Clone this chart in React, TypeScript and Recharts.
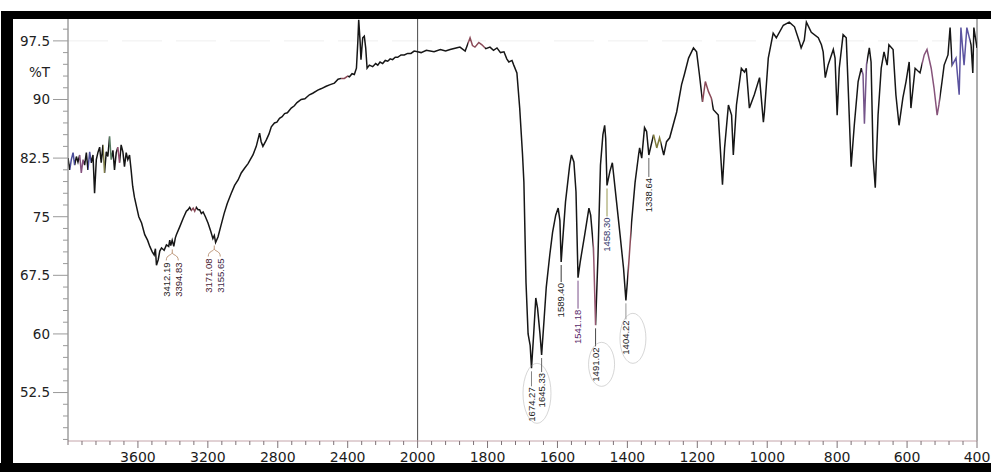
import { Line, LineChart, ReferenceDot, ReferenceLine, XAxis, YAxis } from "recharts";

// IR spectrum, transmittance (%T) against wavenumber (1/cm).
// The 4000-2000 range is drawn at half the scale of 2000-400.
const wavenumbers = [
  4000, 3990, 3981, 3971, 3962, 3952, 3943, 3933, 3924, 3914, 3905, 3895, 3886, 3876, 3867, 3857, 3848, 3838, 3829, 3819,
  3810, 3800, 3791, 3781, 3772, 3762, 3753, 3743, 3734, 3724, 3715, 3705, 3696, 3686, 3677, 3667, 3658, 3648, 3639, 3630,
  3620, 3608, 3595, 3579, 3561, 3545, 3532, 3518, 3507, 3500, 3494, 3484, 3475, 3465, 3450, 3437, 3424, 3418, 3412.19, 3404,
  3394.83, 3386, 3380, 3361, 3341, 3323, 3313, 3304, 3294, 3284, 3275, 3266, 3256, 3247, 3237, 3227, 3214, 3199, 3183, 3171.08,
  3163, 3155.65, 3142, 3127, 3107, 3089, 3066, 3047, 3027, 3009, 2990, 2970, 2955, 2942, 2923, 2904, 2895, 2885, 2866, 2850,
  2837, 2819, 2805, 2790, 2775, 2761, 2745, 2723, 2705, 2690, 2666, 2645, 2619, 2600, 2571, 2550, 2523, 2500, 2476, 2455,
  2438, 2419, 2400, 2390, 2375, 2362, 2350, 2342, 2337, 2329, 2324, 2314, 2305, 2297, 2289, 2276, 2257, 2240, 2228, 2215,
  2200, 2185, 2171, 2157, 2143, 2128, 2114, 2095, 2076, 2057, 2038, 2020, 2000,
  1990, 1975, 1953, 1935, 1920, 1907, 1890, 1879, 1864, 1850, 1843, 1836, 1825, 1816, 1805, 1793, 1783, 1773, 1763, 1753,
  1745, 1739, 1730, 1725, 1716, 1708, 1700, 1696, 1690, 1684, 1678, 1674.27, 1668, 1662, 1657, 1650, 1645.33, 1638, 1632, 1622,
  1614, 1605, 1598, 1593, 1589.4, 1585, 1577, 1565, 1560, 1553, 1547, 1541.18, 1535, 1522, 1510, 1505, 1497, 1491.02, 1484, 1477,
  1470, 1465, 1462, 1458.3, 1450, 1443, 1431, 1421, 1411, 1404.22, 1397, 1388, 1378, 1368, 1365, 1359, 1351, 1345, 1338.64, 1325,
  1316, 1308, 1296, 1288, 1279, 1259, 1245, 1237, 1225, 1211, 1202, 1194, 1185, 1177, 1168, 1160, 1154, 1140, 1128, 1122,
  1111, 1102, 1097, 1088, 1074, 1065, 1060, 1051, 1037, 1022, 1011, 1008, 997, 983, 974, 954, 937, 922, 908, 903,
  894, 888, 874, 854, 845, 840, 834, 826, 811, 806, 800, 794, 783, 774, 768, 760, 751, 740, 731, 726,
  722, 716, 708, 703, 697, 691, 683, 674, 666, 657, 652, 640, 632, 623, 612, 603, 594, 589, 577, 563,
  551, 543, 531, 523, 514, 509, 500, 494, 483, 477, 471, 460, 451, 446, 437, 429, 417, 412, 409, 400,
];

const transmittance = [
  82.5, 81.0, 82.3, 83.2, 81.6, 82.7, 82.0, 82.9, 80.6, 82.3, 81.6, 83.2, 81.0, 83.3, 81.9, 82.9, 78.0, 82.3, 83.2, 83.9,
  81.9, 84.2, 80.6, 83.3, 82.7, 85.3, 82.3, 83.5, 81.0, 83.2, 83.9, 81.9, 84.2, 83.3, 81.4, 83.2, 82.3, 82.9, 81.0, 78.9,
  77.5, 76.3, 75.0, 74.2, 72.7, 72.0, 71.2, 70.5, 70.1, 70.9, 68.8, 69.5, 70.6, 71.0, 70.7, 71.4, 71.2, 72.0, 71.3, 72.0,
  71.2, 72.3, 72.7, 73.7, 74.8, 75.7, 75.9, 76.2, 75.8, 76.1, 75.7, 76.2, 75.9, 75.9, 75.4, 75.6, 75.0, 74.2, 73.1, 72.2,
  72.6, 71.7, 72.4, 73.7, 75.4, 76.7, 78.0, 79.0, 79.7, 80.6, 81.2, 81.8, 82.4, 82.9, 84.0, 85.7, 84.6, 84.0, 84.8, 85.6,
  86.5, 87.0, 87.1, 87.6, 87.8, 88.2, 88.3, 88.9, 89.2, 89.6, 90.0, 90.1, 90.6, 90.8, 91.2, 91.4, 91.7, 91.9, 92.1, 92.6,
  92.7, 92.7, 93.0, 92.9, 93.3, 93.2, 94.0, 97.4, 100.2, 97.4, 95.1, 97.9, 98.1, 96.6, 94.0, 94.4, 94.2, 94.6, 94.4, 94.8,
  94.6, 95.0, 94.9, 95.2, 95.1, 95.4, 95.4, 95.7, 95.7, 95.9, 95.9, 96.2, 96.1,
  96.0, 96.3, 96.1, 96.4, 96.2, 96.4, 96.6, 96.7, 96.2, 97.9, 96.9, 96.7, 97.3, 97.0, 96.5, 96.7, 96.3, 96.6, 96.0, 96.1,
  95.2, 94.8, 95.0, 94.4, 93.4, 88.9, 83.0, 79.4, 66.6, 60.0, 58.5, 55.6, 60.0, 64.6, 63.3, 60.0, 57.3, 62.0, 66.0, 70.1,
  73.0, 75.2, 76.1, 74.5, 69.2, 72.0, 76.9, 81.6, 82.9, 82.0, 78.2, 67.2, 69.2, 72.7, 76.1, 75.2, 71.0, 61.1, 70.1, 81.6,
  85.5, 86.7, 85.0, 79.0, 80.8, 81.9, 76.9, 72.7, 68.4, 64.3, 68.4, 74.3, 79.4, 82.9, 83.8, 82.5, 86.4, 85.9, 82.9, 85.5,
  83.8, 85.1, 82.9, 84.6, 85.1, 88.4, 91.9, 93.2, 95.3, 96.6, 96.1, 93.2, 89.7, 92.3, 91.0, 90.2, 88.7, 88.0, 79.1, 83.8,
  89.3, 88.0, 82.9, 89.3, 94.0, 93.5, 94.0, 88.9, 90.6, 92.8, 87.1, 88.4, 95.3, 98.5, 97.9, 99.5, 99.9, 99.3, 97.4, 96.6,
  97.6, 99.9, 98.6, 97.9, 97.0, 96.1, 92.8, 94.4, 96.4, 95.3, 88.0, 94.0, 98.3, 97.9, 91.0, 81.4, 86.7, 92.3, 94.0, 93.2,
  86.9, 94.5, 96.6, 94.8, 82.5, 78.7, 88.0, 94.0, 96.1, 94.4, 97.0, 96.4, 90.6, 86.7, 90.2, 92.3, 94.8, 88.9, 94.0, 93.4,
  95.7, 96.4, 94.0, 91.5, 88.0, 89.3, 92.3, 94.4, 95.7, 99.2, 94.4, 95.3, 90.6, 99.2, 94.4, 99.2, 97.0, 93.4, 99.2, 96.6,
];

// marked bands
const singlePeaks = [1674.27, 1645.33, 1589.4, 1541.18, 1491.02, 1458.3, 1404.22, 1338.64];
const pairedPeaks = [
  [3412.19, 3394.83],
  [3171.08, 3155.65],
];

const xMajorLabels = [3600, 3200, 2800, 2400, 2000, 1800, 1600, 1400, 1200, 1000, 800, 600, 400];
const yMajorLabels = [52.5, 60, 67.5, 75, 82.5, 90, 97.5];

// pen colour changes along the trace: [from, to, colour]
const traceBands: [number, number, string][] = [
  [3990, 3962, "#4a4c98"],
  [3935, 3908, "#85527f"],
  [3885, 3866, "#4a4c98"],
  [3800, 3788, "#7c7a44"],
  [3766, 3750, "#55795f"],
  [3722, 3704, "#8e4d6c"],
  [3296, 3266, "#8a4a58"],
  [2436, 2396, "#8a4a58"],
  [1856, 1806, "#8a4a58"],
  [1498, 1490, "#94566f"],
  [1398, 1390, "#8a4a58"],
  [1328, 1304, "#7e7a3c"],
  [1186, 1158, "#8a4a58"],
  [728, 714, "#75558a"],
  [556, 506, "#86537a"],
  [472, 420, "#5c54a0"],
];

const peakStyle: Record<string, { text: string; lead: string; gap: number; ring?: [number, number, number, number] }> = {
  "1674.27": { text: "#222", lead: "#777", gap: 19, ring: [5.5, 25, 14, 30] },
  "1645.33": { text: "#222", lead: "#555", gap: 18 },
  "1589.40": { text: "#222", lead: "#222", gap: 21 },
  "1541.18": { text: "#5a2a6a", lead: "#6a3a7a", gap: 32 },
  "1491.02": { text: "#222", lead: "#333", gap: 22, ring: [6, 39, 13, 22] },
  "1458.30": { text: "#34386a", lead: "#8a8a3a", gap: 32 },
  "1404.22": { text: "#222", lead: "#888", gap: 20, ring: [7, 38, 13, 25] },
  "1338.64": { text: "#222", lead: "#555", gap: 23 },
};
const pairColors = [
  ["#1e1e1e", "#3a2028"],
  ["#4a2030", "#3e2a48"],
];

// split axis: 4000-2000 compressed by two
const toAxis = (wn: number) => (wn >= 2000 ? (2000 - wn) / 2 : 2000 - wn);
const fromAxis = (u: number) => (u <= 0 ? 2000 - 2 * u : 2000 - u);
const tAt = (wn: number) => transmittance[wavenumbers.indexOf(wn)];

const spectrum = wavenumbers.map((wn, i) => ({ u: toAxis(wn), t: transmittance[i] }));

const xTicks: number[] = [];
for (let u = -1000; u <= 1600; u += 40) xTicks.push(u);
const yTicks: number[] = [];
for (let k = 31; k <= 66; k++) yTicks.push(k * 1.5);

const offset = (wn: number) => `${(((toAxis(wn) + 1000) / 2600) * 100).toFixed(3)}%`;
const INK = "#161616";
const labelFont = "'Liberation Sans', Arial, sans-serif";
const axisFont = "'DejaVu Sans', Verdana, sans-serif";

function WavenumberTick(props: any) {
  const { x, y, payload } = props;
  const wn = fromAxis(payload.value);
  const major = xMajorLabels.includes(wn);
  return (
    <g>
      <line x1={x} y1={y} x2={x} y2={y + (major ? 7 : 4)} stroke="#7d7276" strokeWidth={1} />
      {major && (
        <text x={x} y={y + 21} textAnchor="middle" fontSize={14} fontFamily={axisFont} fill="#1c1c1c">
          {wn}
        </text>
      )}
    </g>
  );
}

function PercentTick(props: any) {
  const { x, y, payload } = props;
  const v = payload.value;
  const major = yMajorLabels.includes(v);
  return (
    <g>
      <line x1={x - (major ? 15 : 5)} y1={y} x2={x} y2={y} stroke="#9a9a9a" strokeWidth={1} />
      {major && (
        <text x={x - 18} y={y} dy="0.36em" textAnchor="end" fontSize={13.5} fontFamily={axisFont} fill="#222">
          {v}
        </text>
      )}
    </g>
  );
}

function verticalText(x: number, top: number, text: string, color: string) {
  return (
    <text
      x={x + 3.3}
      y={top}
      transform={`rotate(-90 ${x + 3.3} ${top})`}
      textAnchor="end"
      fontSize={9.5}
      fontFamily={labelFont}
      fill={color}
    >
      {text}
    </text>
  );
}

function singleMarker(wn: number) {
  const key = wn.toFixed(2);
  const s = peakStyle[key];
  return (p: any) => {
    const { cx, cy } = p;
    return (
      <g>
        <line x1={cx} y1={cy + 3} x2={cx} y2={cy + s.gap - 1} stroke={s.lead} strokeWidth={0.9} />
        {verticalText(cx, cy + s.gap, key, s.text)}
        {s.ring && (
          <ellipse
            cx={cx + s.ring[0]}
            cy={cy + s.ring[1]}
            rx={s.ring[2]}
            ry={s.ring[3]}
            fill="none"
            stroke="#a8a8a8"
            strokeWidth={0.8}
            opacity={0.6}
          />
        )}
      </g>
    );
  };
}

function pairMarker(pair: number[], colors: string[]) {
  return (p: any) => {
    const { cx, cy } = p;
    return (
      <g>
        <path
          d={`M ${cx} ${cy + 3} L ${cx} ${cy + 6} M ${cx - 6} ${cy + 14} C ${cx - 6} ${cy + 8} ${cx} ${cy + 9} ${cx} ${cy + 6} C ${cx} ${cy + 9} ${cx + 6} ${cy + 8} ${cx + 6} ${cy + 14}`}
          fill="none"
          stroke="#b48a6a"
          strokeWidth={0.9}
        />
        {verticalText(cx - 6, cy + 16, pair[0].toFixed(2), colors[0])}
        {verticalText(cx + 6, cy + 16, pair[1].toFixed(2), colors[1])}
      </g>
    );
  };
}

export default function App() {
  return (
    <div style={{ position: "fixed", left: 0, top: 0, width: 991, height: 472, background: "#fff", overflow: "hidden" }}>
      <LineChart width={991} height={472} data={spectrum} margin={{ top: 19, right: 14, bottom: 0, left: 0 }}>
        <defs>
          <linearGradient id="traceColor" x1="0" y1="0" x2="1" y2="0">
            <stop offset="0%" stopColor={INK} />
            {traceBands.map(([a, b, c]) => [
              <stop key={`${a}a`} offset={offset(a)} stopColor={INK} />,
              <stop key={`${a}b`} offset={offset(a)} stopColor={c} />,
              <stop key={`${a}c`} offset={offset(b)} stopColor={c} />,
              <stop key={`${a}d`} offset={offset(b)} stopColor={INK} />,
            ])}
            <stop offset="100%" stopColor={INK} />
          </linearGradient>
        </defs>
        <XAxis
          dataKey="u"
          type="number"
          domain={[-1000, 1600]}
          allowDataOverflow
          ticks={xTicks}
          interval={0}
          tickSize={0}
          tickMargin={0}
          tickLine={false}
          height={31}
          axisLine={{ stroke: "#c4a4aa" }}
          tick={(p: any) => <WavenumberTick {...p} />}
        />
        <YAxis
          type="number"
          domain={[46.3, 100.3]}
          allowDataOverflow
          ticks={yTicks}
          interval={0}
          tickSize={0}
          tickMargin={0}
          tickLine={false}
          width={68}
          axisLine={{ stroke: "#6e6e6e" }}
          tick={(p: any) => <PercentTick {...p} />}
          label={{
            content: ({ viewBox }: any) => (
              <text
                x={viewBox.x + viewBox.width - 18}
                y={viewBox.y + 58}
                textAnchor="end"
                fontSize={13.5}
                fontFamily={axisFont}
                fill="#222"
              >
                %T
              </text>
            ),
          }}
        />
        <ReferenceLine y={97.5} stroke="#efefef" strokeDasharray="40 14" />
        <ReferenceLine x={toAxis(2000)} stroke="#4a4a4a" strokeWidth={1} />
        <ReferenceLine x={toAxis(400)} stroke="#5a5a5a" strokeWidth={1} />
        <Line
          type="linear"
          dataKey="t"
          stroke="url(#traceColor)"
          strokeWidth={1.5}
          dot={false}
          activeDot={false}
          isAnimationActive={false}
        />
        {singlePeaks.map((wn) => (
          <ReferenceDot key={wn} x={toAxis(wn)} y={tAt(wn)} shape={singleMarker(wn)} />
        ))}
        {pairedPeaks.map((pair, i) => (
          <ReferenceDot
            key={pair[0]}
            x={toAxis((pair[0] + pair[1]) / 2)}
            y={Math.min(tAt(pair[0]), tAt(pair[1]))}
            shape={pairMarker(pair, pairColors[i])}
          />
        ))}
      </LineChart>
      {/* black border of the sheet */}
      <div style={{ position: "absolute", left: 3, top: 11, width: 988, height: 8, background: "#000" }} />
      <div style={{ position: "absolute", left: 1, top: 11, width: 12, height: 461, background: "#000" }} />
      <div style={{ position: "absolute", left: 0, top: 463, width: 991, height: 9, background: "#000" }} />
    </div>
  );
}
